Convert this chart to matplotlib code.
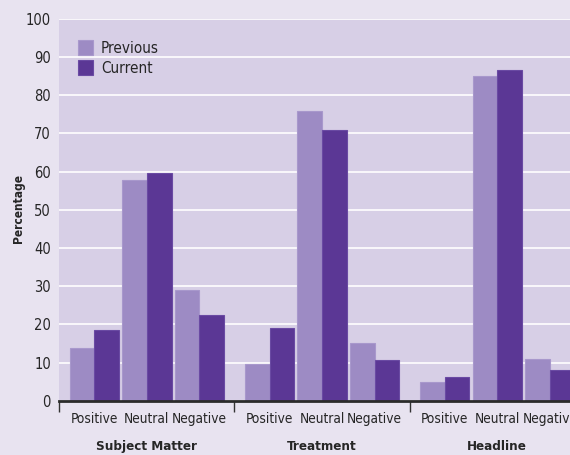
import matplotlib
matplotlib.use('Agg')

import numpy as np
import matplotlib.pyplot as plt
import matplotlib.transforms as mtransforms

plt.rcParams['font.family'] = ['DejaVu Sans']
plt.rcParams['font.stretch'] = 'condensed'

# data
groups = ["Subject Matter", "Treatment", "Headline"]
tones = ["Positive", "Neutral", "Negative"]
previous = [13.8, 57.9, 29.1, 9.6, 76.0, 15.2, 5.0, 85.0, 11.0]
current = [18.6, 59.7, 22.5, 19.2, 70.8, 10.6, 6.2, 86.6, 8.1]

prev_color = "#9d8bc4"
curr_color = "#5b3795"
fig_bg = "#e8e3f0"
ax_bg = "#d7cfe6"
text_color = "#262626"

fig = plt.figure(figsize=(5.7, 4.55), dpi=100, facecolor=fig_bg)
ax = fig.add_axes([0.104, 0.119, 0.896, 0.8396])
ax.set_facecolor(ax_bg)

# positions: 3 tones per group, wider gap between groups
group_step = 3 + 1 / 3
x = np.array([g * group_step + t for g in range(len(groups)) for t in range(len(tones))])
w = 0.47

ax.bar(x - w / 2, previous, w, color=prev_color, edgecolor="#a898cc",
       linewidth=0.8, label="Previous", zorder=3)
ax.bar(x + w / 2, current, w, color=curr_color, edgecolor="#6a4aa3",
       linewidth=0.8, label="Current", zorder=3)

ax.set_xlim(-2 / 3, 9.05)
ax.set_ylim(0, 100)
ax.set_yticks(range(0, 101, 10))
ax.yaxis.grid(True, color="white", linewidth=1.2, zorder=1)
ax.set_axisbelow(True)

for s in ["top", "right", "left"]:
    ax.spines[s].set_visible(False)
ax.spines["bottom"].set_color("#2b2b2b")
ax.spines["bottom"].set_linewidth(2)
ax.spines["bottom"].set_zorder(4)

ax.tick_params(axis="y", length=0, pad=6, labelsize=10.5, labelcolor=text_color)

# tone labels under each bar pair, group dividers as ticks
ax.set_xticks(x)
ax.set_xticklabels(tones * len(groups))
ax.tick_params(axis="x", which="major", length=0, pad=8, labelsize=9.8, labelcolor=text_color)
dividers = [-2 / 3, 2 + 2 / 3, 6]
ax.set_xticks(dividers, minor=True)
ax.tick_params(axis="x", which="minor", length=8, width=1, color="#333333")

trans = mtransforms.blended_transform_factory(ax.transData, ax.transAxes)
for g, name in enumerate(groups):
    ax.text(g * group_step + 1, -0.12, name, transform=trans, ha="center", va="center",
            fontsize=9.6, fontweight="bold", color=text_color)

fig.text(18 / 570, 1 - 209 / 455, "Percentage", rotation=90, ha="center", va="center",
         fontsize=8.6, fontweight="bold", color=text_color)

ax.legend(loc="upper left", bbox_to_anchor=(0.01, 0.98), frameon=False,
          handlelength=1.0, handleheight=1.1, handletextpad=0.5,
          labelspacing=0.3, fontsize=11, labelcolor=text_color)

plt.savefig("out.png", dpi=100, facecolor=fig_bg)
plt.close()
